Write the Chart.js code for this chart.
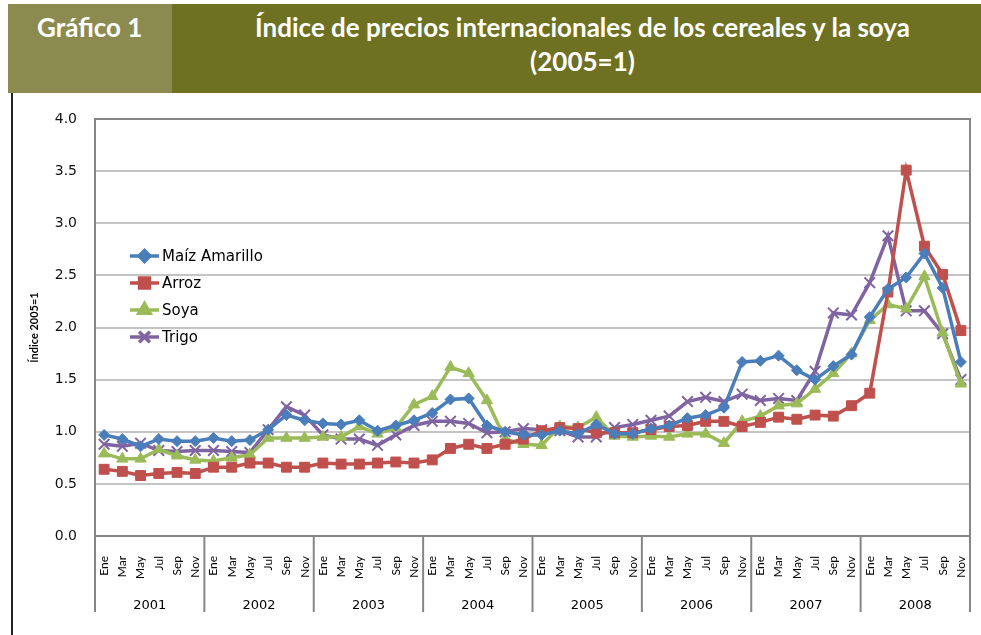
<!DOCTYPE html>
<html>
<head>
<meta charset="utf-8">
<script src="https://cdn.jsdelivr.net/npm/chart.js@4/dist/chart.umd.min.js"></script>
<style>
  html, body { margin: 0; padding: 0; background: #fff; }
  body { width: 981px; height: 635px; position: relative; overflow: hidden; }
  .head-left { position: absolute; left: 8px; top: 4px; width: 164px; height: 89px; background: #8c8b4f; }
  .head-main { position: absolute; left: 172px; top: 4px; width: 809px; height: 89px; background: #6e7022; }
  .head-left span { position: absolute; left: 29px; top: 7px; color: #fff; font: bold 26px Lato, sans-serif; }
  .head-main div { color: #fff; font: bold 26px Lato, sans-serif; text-align: center; line-height: 34px; padding-top: 6px; padding-left: 12px; }
  .frame { position: absolute; left: 11px; top: 93px; width: 2px; height: 542px; background: #222; }
  #wrap { position: absolute; left: 0; top: 92px; width: 981px; height: 543px; }
</style>
</head>
<body>
<div class="head-left"><span>Gráfico 1</span></div>
<div class="head-main"><div>Índice de precios internacionales de los cereales y la soya<br>(2005=1)</div></div>
<div class="frame"></div>
<div id="wrap"><canvas id="chart"></canvas></div>

<script>
// bimonthly categories, 2001-2008
const years = ['2001', '2002', '2003', '2004', '2005', '2006', '2007', '2008'];
const months = ['Ene', 'Mar', 'May', 'Jul', 'Sep', 'Nov'];
const yTicks = [0, 0.5, 1, 1.5, 2, 2.5, 3, 3.5, 4];

const maiz = [0.97, 0.93, 0.86, 0.93, 0.91, 0.91,
              0.94, 0.91, 0.92, 1.02, 1.16, 1.11,
              1.08, 1.07, 1.11, 1.01, 1.06, 1.11,
              1.18, 1.31, 1.32, 1.06, 1.00, 0.97,
              0.97, 1.01, 0.98, 1.07, 0.98, 0.98,
              1.03, 1.06, 1.13, 1.16, 1.23, 1.67,
              1.68, 1.73, 1.59, 1.50, 1.63, 1.74,
              2.10, 2.37, 2.48, 2.71, 2.38, 1.67];
const arroz = [0.64, 0.62, 0.58, 0.60, 0.61, 0.60,
               0.66, 0.66, 0.70, 0.70, 0.66, 0.66,
               0.70, 0.69, 0.69, 0.70, 0.71, 0.70,
               0.73, 0.84, 0.88, 0.84, 0.88, 0.93,
               1.01, 1.04, 1.03, 0.99, 0.99, 0.99,
               1.02, 1.05, 1.06, 1.10, 1.10, 1.05,
               1.09, 1.14, 1.12, 1.16, 1.15, 1.25,
               1.37, 2.34, 3.51, 2.78, 2.51, 1.97];
const soya = [0.79, 0.74, 0.74, 0.83, 0.77, 0.73,
              0.72, 0.75, 0.78, 0.94, 0.94, 0.94,
              0.95, 0.95, 1.05, 0.98, 1.04, 1.26,
              1.34, 1.62, 1.56, 1.30, 0.93, 0.88,
              0.87, 1.05, 1.04, 1.14, 0.96, 0.95,
              0.96, 0.95, 0.98, 0.98, 0.89, 1.10,
              1.15, 1.25, 1.27, 1.41, 1.56, 1.75,
              2.07, 2.22, 2.18, 2.49, 1.95, 1.46];
const trigo = [0.88, 0.86, 0.89, 0.82, 0.81, 0.82,
               0.82, 0.81, 0.80, 1.02, 1.24, 1.16,
               0.97, 0.93, 0.93, 0.87, 0.97, 1.06,
               1.10, 1.10, 1.08, 0.99, 1.00, 1.03,
               1.02, 1.01, 0.95, 0.95, 1.04, 1.07,
               1.11, 1.15, 1.29, 1.33, 1.29, 1.36,
               1.30, 1.32, 1.30, 1.58, 2.14, 2.12,
               2.43, 2.88, 2.16, 2.16, 1.94, 1.50];

const labels = [];
years.forEach(y => months.forEach(m => labels.push(m)));

function series(label, data, color, style, radius) {
    return {
        label: label,
        data: data,
        borderColor: color,
        backgroundColor: color,
        borderWidth: 3.5,
        pointStyle: style,
        pointRadius: radius,
        pointBorderWidth: style === 'crossRot' ? 2 : 1,
        pointBorderColor: color,
        pointBackgroundColor: color,
        tension: 0,
        xAxisID: 'x'
    };
}

// plot frame, year separators and the in-plot legend
const extras = {
    id: 'extras',
    beforeDatasetsDraw(chart) {
        const ctx = chart.ctx, a = chart.chartArea;
        ctx.save();
        ctx.strokeStyle = '#868686';
        ctx.lineWidth = 2;
        ctx.strokeRect(a.left, a.top, a.right - a.left, a.bottom - a.top);

        const x = chart.scales.x, x2 = chart.scales.x2;
        ctx.lineWidth = 2;
        for (let k = 0; k <= years.length; k++) {
            let px;
            if (k === 0) px = a.left;
            else if (k === years.length) px = a.right;
            else px = (x.getPixelForValue(k * 6 - 1) + x.getPixelForValue(k * 6)) / 2;
            ctx.beginPath();
            ctx.moveTo(px, a.bottom);
            ctx.lineTo(px, x2.bottom);
            ctx.stroke();
        }
        ctx.restore();
    },
    afterDatasetsDraw(chart) {
        const ctx = chart.ctx, a = chart.chartArea;
        const lx = a.left + 35, ly = a.top + 137;
        ctx.save();
        chart.data.datasets.forEach((ds, i) => {
            const y = ly + i * 27;
            ctx.strokeStyle = ds.borderColor;
            ctx.lineWidth = 3.5;
            ctx.beginPath();
            ctx.moveTo(lx, y);
            ctx.lineTo(lx + 29, y);
            ctx.stroke();
            Chart.helpers.drawPoint(ctx, {
                pointStyle: ds.pointStyle,
                radius: ds.pointRadius,
                rotation: 0,
                borderWidth: ds.pointBorderWidth
            }, lx + 14.5, y);
            ctx.fillStyle = ds.borderColor;
            ctx.lineWidth = ds.pointBorderWidth;
            ctx.fill();
            ctx.stroke();
            ctx.fillStyle = '#000';
            ctx.font = '15px "DejaVu Sans"';
            ctx.textBaseline = 'middle';
            ctx.fillText(ds.label, lx + 32, y + 1);
        });
        ctx.restore();
    }
};

new Chart(document.getElementById('chart'), {
    type: 'line',
    data: {
        labels: labels,
        datasets: [
            series('Maíz Amarillo', maiz, '#4a7ebb', 'rectRot', 5.5),
            series('Arroz', arroz, '#c0504d', 'rect', 7),
            series('Soya', soya, '#9bbb59', 'triangle', 6.5),
            series('Trigo', trigo, '#8064a2', 'crossRot', 7.5)
        ]
    },
    options: {
        responsive: true,
        maintainAspectRatio: false,
        animation: false,
        layout: { padding: { top: 27, right: 11, left: 22, bottom: 23 } },
        plugins: {
            legend: { display: false },
            tooltip: { enabled: false }
        },
        scales: {
            x: {
                type: 'category',
                position: 'bottom',
                weight: 0,
                offset: true,
                grid: { display: false },
                border: { display: false },
                ticks: {
                    autoSkip: false,
                    minRotation: 90,
                    maxRotation: 90,
                    padding: 12,
                    color: '#000',
                    font: { family: 'Lato', size: 12 }
                },
                afterFit: s => { s.height = 44; s.paddingLeft = 0; s.paddingRight = 0; }
            },
            x2: {
                type: 'category',
                position: 'bottom',
                weight: 1,
                labels: years,
                offset: true,
                grid: { display: false },
                border: { display: false },
                ticks: {
                    padding: 10,
                    color: '#000',
                    font: { family: 'DejaVu Sans', size: 13 }
                },
                afterFit: s => { s.height = 32; s.paddingLeft = 0; s.paddingRight = 0; }
            },
            y: {
                min: 0,
                max: 4,
                afterBuildTicks: s => { s.ticks = yTicks.map(v => ({ value: v })); },
                grid: { color: '#c4c4c4', lineWidth: 2, drawTicks: false },
                border: { display: false },
                ticks: {
                    padding: 18,
                    color: '#111',
                    font: { family: 'DejaVu Sans', size: 14 },
                    callback: v => Number(v).toFixed(1)
                },
                title: {
                    display: true,
                    text: 'Índice 2005=1',
                    color: '#000',
                    padding: { top: 6, bottom: 0 },
                    font: { family: 'Lato', size: 11, weight: 'bold' }
                },
                afterFit: s => { s.width = 73; }
            }
        }
    },
    plugins: [extras]
});
</script>
</body>
</html>
